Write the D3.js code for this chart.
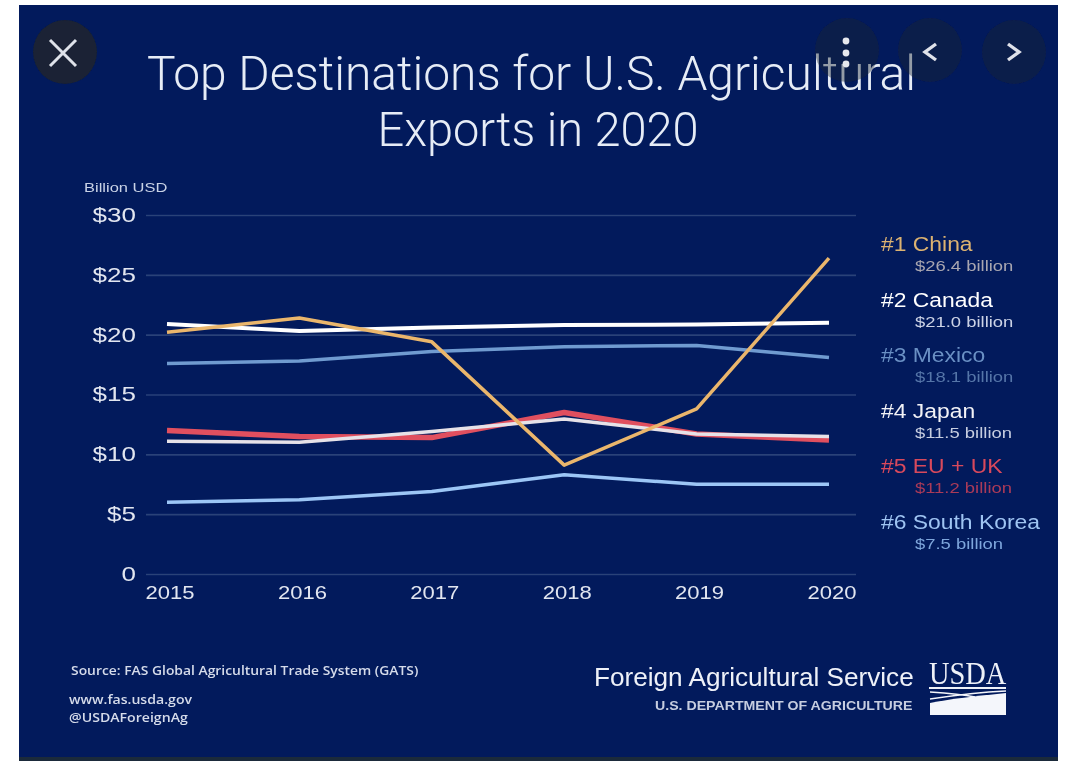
<!DOCTYPE html>
<html>
<head>
<meta charset="utf-8">
<script src="https://cdn.jsdelivr.net/npm/d3@7"></script>
<style>
  html, body { margin: 0; padding: 0; background: #fff; overflow: hidden; }
  svg { display: block; }
  text { font-family: "Liberation Sans", sans-serif; }
</style>
</head>
<body>
<div id="graph1"></div>
<script>
var years = [2015, 2016, 2017, 2018, 2019, 2020];
var yTicks = [0, 5, 10, 15, 20, 25, 30];

var china = [20.2, 21.4, 19.4, 9.1, 13.8, 26.4];
var canada = [20.9, 20.3, 20.6, 20.8, 20.85, 21.0];
var mexico = [17.6, 17.8, 18.6, 19.0, 19.1, 18.1];
var japan = [11.1, 11.0, 11.9, 12.95, 11.7, 11.5];
var euUk = [12.0, 11.5, 11.4, 13.5, 11.7, 11.2];
var korea = [6.0, 6.2, 6.9, 8.3, 7.5, 7.5];

var legendNames = ["#1 China", "#2 Canada", "#3 Mexico", "#4 Japan", "#5 EU + UK", "#6 South Korea"];
var legendValues = ["$26.4 billion", "$21.0 billion", "$18.1 billion", "$11.5 billion", "$11.2 billion", "$7.5 billion"];

var titleLines = ["Top Destinations for U.S. Agricultural", "Exports in 2020"];
var sourceLines = ["www.fas.usda.gov", "@USDAForeignAg"];

var width = 1071, height = 761;
var xscale = d3.scaleLinear().domain([2015, 2020]).range([167, 829]);
var yscale = d3.scaleLinear().domain([0, 30]).range([574, 215]);

var svg = d3.select("#graph1").append("svg")
  .attr("width", width)
  .attr("height", height);

// the source picture is a soft, upscaled screenshot
var defs = svg.append("defs");
defs.append("filter").attr("id", "soft")
  .attr("x", "-5%").attr("y", "-5%").attr("width", "110%").attr("height", "110%")
  .append("feGaussianBlur").attr("stdDeviation", 0.75);

svg.append("rect").attr("x", 19).attr("y", 5).attr("width", 1039).attr("height", 756).attr("fill", "#021a5c");
svg.append("rect").attr("x", 19).attr("y", 757).attr("width", 1039).attr("height", 4).attr("fill", "#1b2a3a");

var g = svg.append("g").attr("filter", "url(#soft)");

// text is wider than normal in the source, the picture was stretched
function put(sel, x, y, sx) {
  return sel.attr("transform", "translate(" + x + "," + y + ") scale(" + sx + ",1)");
}

// title
g.selectAll(".title").data(titleLines).enter().append("text")
  .attr("class", "title")
  .attr("text-anchor", "middle")
  .attr("fill", "#e6ecf6")
  .style("font-family", "Roboto")
  .style("font-weight", 300)
  .style("font-size", "49px")
  .attr("transform", function(d, i) { return "translate(" + (i ? 538 : 531.5) + "," + (90 + i * 56) + ") scale(" + (i ? 0.958 : 0.978) + ",1)"; })
  .text(function(d) { return d; });

// axes
var yaxis = g.append("g")
  .attr("transform", "translate(146,0)")
  .call(d3.axisLeft(yscale).tickValues(yTicks).tickSize(-710).tickPadding(10)
    .tickFormat(function(d) { return d === 0 ? "0" : "$" + d; }));
yaxis.select(".domain").remove();
yaxis.selectAll("line").attr("stroke", "#2a4278").attr("stroke-width", 1.6);
yaxis.selectAll("text")
  .attr("fill", "#e2e6f0")
  .attr("transform", "scale(1.3,1)")
  .attr("x", -7.8)
  .style("font-size", "20px")
  .style("font-family", "Liberation Sans");

var xaxis = g.append("g")
  .attr("transform", "translate(2.5,574)")
  .call(d3.axisBottom(xscale).tickValues(years).tickSize(0).tickPadding(12).tickFormat(d3.format("d")));
xaxis.select(".domain").remove();
xaxis.selectAll("text")
  .attr("fill", "#e2e6f0")
  .attr("transform", "scale(1.16,1)")
  .style("font-size", "19px")
  .style("font-family", "Liberation Sans");

put(g.append("text"), 84, 192, 1.32)
  .attr("fill", "#c9d2e6")
  .style("font-size", "12.5px")
  .text("Billion USD");

// lines, back to front
var line = d3.line()
  .x(function(d, i) { return xscale(years[i]); })
  .y(function(d) { return yscale(d); });

var seriesList = [
  { values: euUk, color: "#e0505e", w: 5.5 },
  { values: japan, color: "#e6e2e8", w: 3.5 },
  { values: mexico, color: "#6f9bd0", w: 3.5 },
  { values: korea, color: "#9cc6f6", w: 3.5 },
  { values: canada, color: "#ffffff", w: 4 },
  { values: china, color: "#eab66c", w: 3.5 }
];
g.selectAll(".series").data(seriesList).enter().append("path")
  .attr("class", "series")
  .attr("fill", "none")
  .attr("stroke", function(d) { return d.color; })
  .attr("stroke-width", function(d) { return d.w; })
  .attr("stroke-linejoin", "round")
  .attr("d", function(d) { return line(d.values); });

// legend
var nameColors = ["#dcb271", "#ffffff", "#6a90c4", "#f2f2f6", "#d8495c", "#9fc4f2"];
var valueColors = ["#a8a6b0", "#ccd3e6", "#5575a8", "#c6cde0", "#aa3a58", "#7ea6dc"];
var legendY = d3.scalePoint().domain(legendNames).range([251, 529]);

legendNames.forEach(function(name, i) {
  put(g.append("text"), 881, legendY(name), 1.09)
    .attr("fill", nameColors[i])
    .style("font-size", "21px")
    .text(name);
  put(g.append("text"), 915, legendY(name) + 20, 1.19)
    .attr("fill", valueColors[i])
    .style("font-size", "15.5px")
    .text(legendValues[i]);
});

// footer, left
var foot = g.append("g").attr("fill", "#d5dbea");
put(foot.append("text"), 71, 675, 1.052).style("font-family", "Open Sans").style("font-weight", 600).style("font-size", "13.2px").text("Source: FAS Global Agricultural Trade System (GATS)");
foot.selectAll(".src").data(sourceLines).enter().append("text")
  .attr("class", "src")
  .attr("transform", function(d, i) { return "translate(69," + (704 + i * 18) + ") scale(1.07,1)"; })
  .style("font-family", "Open Sans")
  .style("font-weight", 600)
  .style("font-size", "13.2px")
  .text(function(d) { return d; });

// footer, right
put(g.append("text"), 594, 686, 1.046).attr("fill", "#eef1f8").style("font-size", "25px").text("Foreign Agricultural Service");
put(g.append("text"), 655, 710, 1.18).attr("fill", "#c6cde0").style("font-size", "12px").style("font-weight", "bold").text("U.S. DEPARTMENT OF AGRICULTURE");

// usda mark
put(g.append("text"), 929, 684, 0.917).attr("fill", "#eef1f8").style("font-family", "Liberation Serif").style("font-size", "31px").text("USDA");
g.append("rect").attr("x", 929).attr("y", 687).attr("width", 77).attr("height", 2).attr("fill", "#eef1f8");
g.append("path").attr("fill", "#f4f6fb")
  .attr("d", "M930,715 L930,703 C950,699 975,696 1006,693 L1006,715 Z");
g.append("path").attr("fill", "none").attr("stroke", "#f4f6fb").attr("stroke-width", 1.3)
  .attr("d", "M930,692 C945,693 960,694 975,697 M930,699 C950,696 985,692 1006,691");

// viewer buttons on top of everything
var buttons = [[65, 52, 0.9], [847, 50, 0.4], [930, 50, 0.4], [1014, 52, 0.4]];
var ui = svg.append("g").attr("filter", "url(#soft)");
ui.selectAll("circle").data(buttons).enter().append("circle")
  .attr("cx", function(d) { return d[0]; })
  .attr("cy", function(d) { return d[1]; })
  .attr("r", 32)
  .attr("fill", "#1c2230")
  .attr("fill-opacity", function(d) { return d[2]; });
var icon = ui.append("g").attr("fill", "none").attr("stroke", "#dfe2ea").attr("stroke-width", 3);
icon.append("path").attr("d", "M50,40 L76,66 M76,40 L50,66");
icon.append("path").attr("d", "M936,44 L925,52 L936,60").attr("stroke-width", 3.4);
icon.append("path").attr("d", "M1008,44 L1019,52 L1008,60").attr("stroke-width", 3.4);
ui.selectAll(".dot").data([41, 53, 64]).enter().append("circle")
  .attr("class", "dot")
  .attr("cx", 846)
  .attr("cy", function(d) { return d; })
  .attr("r", 3.4)
  .attr("fill", "#e6e8ee");
</script>
</body>
</html>
